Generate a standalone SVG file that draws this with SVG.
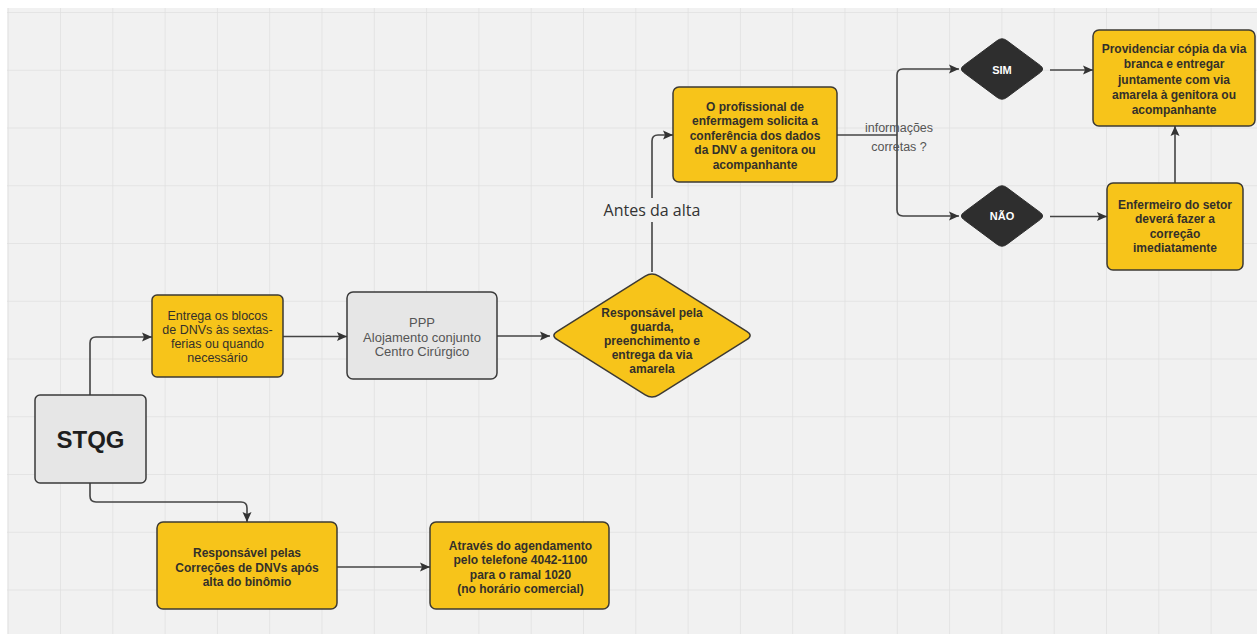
<svg xmlns="http://www.w3.org/2000/svg" width="1257" height="634" viewBox="0 0 1257 634">
<style>
.bg{fill:#f1f1f1}
.yel{fill:#f7c41a;stroke:#3d3a33;stroke-width:1.5}
.gry{fill:#e6e6e6;stroke:#3a3a3a;stroke-width:1.5}
.drk{fill:#2e2e2e;stroke:#2e2e2e;stroke-width:1}
.conn{fill:none;stroke:#444;stroke-width:1.6}
.t{font-family:"Liberation Sans",Arial,sans-serif;font-size:12.5px;text-anchor:middle;fill:#33302a}
.b{font-weight:bold;font-size:12px}
.g{fill:#555;font-size:13px}
.w{fill:#fff;font-weight:bold;font-size:11px}
.lbl{font-family:"Open Sans","Noto Sans",sans-serif;font-size:16px;fill:#333;text-anchor:middle}
.q{font-family:"Liberation Sans",Arial,sans-serif;font-size:12.5px;fill:#555;text-anchor:middle}
</style>
<defs>
<pattern id="grid" x="60" y="12" width="52.3" height="57.75" patternUnits="userSpaceOnUse">
<path d="M0,0 V57.75 M0,0 H52.3" fill="none" stroke="#e0e0e0" stroke-width="1.5"/>
</pattern>
<marker id="arr" viewBox="0 0 10 10" refX="10" refY="5" markerWidth="10" markerHeight="10" markerUnits="userSpaceOnUse" orient="auto">
<path d="M0,0.5 L10,5 L0,9.5 L2,5 Z" fill="#333"/>
</marker>
</defs>
<rect width="1257" height="634" fill="#ffffff"/>
<rect x="7" y="8" width="1250" height="626" class="bg"/>
<rect x="7" y="8" width="1250" height="626" fill="url(#grid)"/>

<g id="connectors">
<path class="conn" d="M90,395 V343 Q90,337 96,337 H152" marker-end="url(#arr)"/>
<path class="conn" d="M90,483 V496 Q90,502 96,502 H241 Q247,502 247,508 V522" marker-end="url(#arr)"/>
<path class="conn" d="M283,336.5 H347" marker-end="url(#arr)"/>
<path class="conn" d="M497,336 H550" marker-end="url(#arr)"/>
<path class="conn" d="M652,272 V222"/>
<path class="conn" d="M652,198 V141 Q652,135 658,135 H673" marker-end="url(#arr)"/>
<path class="conn" d="M837,135 H897"/>
<path class="conn" d="M897,135 V75 Q897,69 903,69 H959" marker-end="url(#arr)"/>
<path class="conn" d="M897,135 V210 Q897,216 903,216 H959" marker-end="url(#arr)"/>
<path class="conn" d="M1050,70 H1093" marker-end="url(#arr)"/>
<path class="conn" d="M1050,216.5 H1107" marker-end="url(#arr)"/>
<path class="conn" d="M1175,183 V126" marker-end="url(#arr)"/>
<path class="conn" d="M337,567 H430" marker-end="url(#arr)"/>
<text class="lbl" x="652" y="215.5">Antes da alta</text>
<text class="q" x="899" y="131.5">informações</text>
<text class="q" x="899" y="150.5">corretas ?</text>
</g>

<g id="stqg">
<rect class="gry" x="35" y="395" width="111" height="88" rx="5"/>
<text class="t" x="90.5" y="447.5" style="font-size:24px;font-weight:bold;fill:#1e1e1e">STQG</text>
</g>

<g id="entrega">
<rect class="yel" x="152" y="295" width="131" height="82" rx="5"/>
<text class="t" x="217.5" y="319.5">Entrega os blocos</text>
<text class="t" x="217.5" y="334">de DNVs às sextas-</text>
<text class="t" x="217.5" y="348">ferias ou quando</text>
<text class="t" x="217.5" y="362">necessário</text>
</g>

<g id="ppp">
<rect class="gry" x="347" y="292" width="150" height="87" rx="6"/>
<text class="t g" x="422" y="326.5">PPP</text>
<text class="t g" x="422" y="341.5">Alojamento conjunto</text>
<text class="t g" x="422" y="355.5">Centro Cirúrgico</text>
</g>

<g id="responsavel-guarda">
<path class="yel" d="M645.2,276.2 Q652,272 658.8,276.2 L746.7,331.3 Q753.5,335.5 746.7,339.7 L658.8,394.8 Q652,399 645.2,394.8 L557.3,339.7 Q550.5,335.5 557.3,331.3 Z"/>
<text class="t b" x="652" y="316.5">Responsável pela</text>
<text class="t b" x="652" y="330.5">guarda,</text>
<text class="t b" x="652" y="344.5">preenchimento e</text>
<text class="t b" x="652" y="358.5">entrega da via</text>
<text class="t b" x="652" y="372.5">amarela</text>
</g>

<g id="profissional">
<rect class="yel" x="673" y="87" width="164" height="95" rx="6"/>
<text class="t b" x="755" y="110.5">O profissional de</text>
<text class="t b" x="755" y="125">enfermagem solicita a</text>
<text class="t b" x="755" y="139.5">conferência dos dados</text>
<text class="t b" x="755" y="154">da DNV a genitora ou</text>
<text class="t b" x="755" y="168.5">acompanhante</text>
</g>

<g id="sim">
<path class="drk" d="M997.2,40.6 Q1002,37 1006.8,40.6 L1040.2,65.4 Q1045,69 1040.2,72.6 L1006.8,97.4 Q1002,101 997.2,97.4 L963.8,72.6 Q959,69 963.8,65.4 Z"/>
<text class="t w" x="1002" y="73.5">SIM</text>
</g>

<g id="nao">
<path class="drk" d="M997.2,187.6 Q1002,184 1006.8,187.6 L1040.2,212.4 Q1045,216 1040.2,219.6 L1006.8,244.4 Q1002,248 997.2,244.4 L963.8,219.6 Q959,216 963.8,212.4 Z"/>
<text class="t w" x="1002" y="220">NÃO</text>
</g>

<g id="providenciar">
<rect class="yel" x="1093" y="30" width="162" height="96" rx="6"/>
<text class="t b" x="1174" y="52.5">Providenciar cópia da via</text>
<text class="t b" x="1174" y="68">branca e entregar</text>
<text class="t b" x="1174" y="83.5">juntamente com via</text>
<text class="t b" x="1174" y="98.5">amarela à genitora ou</text>
<text class="t b" x="1174" y="113.5">acompanhante</text>
</g>

<g id="enfermeiro">
<rect class="yel" x="1107" y="183" width="136" height="87" rx="6"/>
<text class="t b" x="1175" y="208.5">Enfermeiro do setor</text>
<text class="t b" x="1175" y="222.5">deverá fazer a</text>
<text class="t b" x="1175" y="237.5">correção</text>
<text class="t b" x="1175" y="251.5">imediatamente</text>
</g>

<g id="responsavel-correcoes">
<rect class="yel" x="157" y="522" width="180" height="87" rx="6"/>
<text class="t b" x="247" y="556.5">Responsável pelas</text>
<text class="t b" x="247" y="571.5">Correções de DNVs após</text>
<text class="t b" x="247" y="585.5">alta do binômio</text>
</g>

<g id="atraves">
<rect class="yel" x="430" y="522" width="179" height="87" rx="6"/>
<text class="t b" x="520.5" y="549.5">Através do agendamento</text>
<text class="t b" x="520.5" y="564">pelo telefone 4042-1100</text>
<text class="t b" x="520.5" y="578.5">para o ramal 1020</text>
<text class="t b" x="520.5" y="593">(no horário comercial)</text>
</g>
</svg>
